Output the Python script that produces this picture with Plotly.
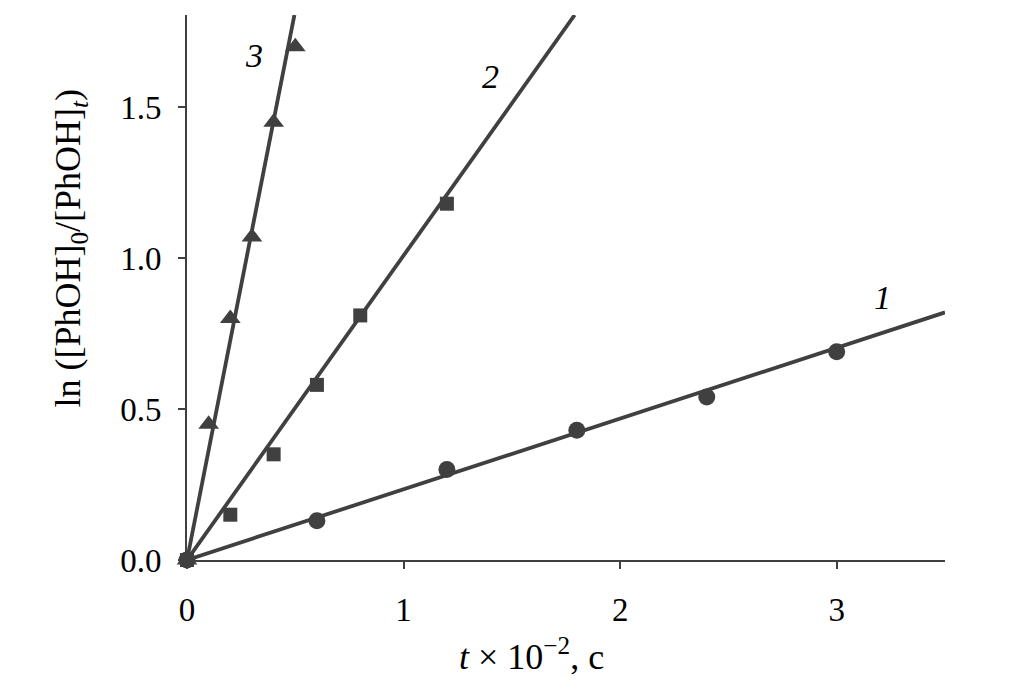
import plotly.graph_objects as go

# Series 1 (circles)
x1 = [0, 0.6, 1.2, 1.8, 2.4, 3.0]
y1 = [0, 0.13, 0.30, 0.43, 0.54, 0.69]
# Series 2 (squares)
x2 = [0, 0.2, 0.4, 0.6, 0.8, 1.2]
y2 = [0, 0.15, 0.35, 0.58, 0.81, 1.18]
# Series 3 (triangles)
x3 = [0, 0.1, 0.2, 0.3, 0.4, 0.5]
y3 = [0, 0.45, 0.80, 1.07, 1.45, 1.70]

# Fitted lines (endpoints)
fit1_x = [0, 3.5]
fit1_y = [0, 0.82]
fit2_x = [0, 1.79]
fit2_y = [0, 1.805]
fit3_x = [0, 0.496]
fit3_y = [0, 1.805]

labels = ["1", "2", "3"]
label_x = [3.21, 1.40, 0.31]
label_y = [0.87, 1.60, 1.67]

x_ticks = [0, 1, 2, 3]
y_ticks = [0.0, 0.5, 1.0, 1.5]

x_title = "<i>t</i> × 10<sup>−2</sup>, c"
y_title = "ln ([PhOH]<sub>0</sub>/[PhOH]<sub><i>t</i></sub>)"

C = "#404040"
FONT = "Liberation Serif, Times New Roman, serif"

fig = go.Figure()
for fx, fy in [(fit1_x, fit1_y), (fit2_x, fit2_y), (fit3_x, fit3_y)]:
    fig.add_trace(go.Scatter(x=fx, y=fy, mode="lines",
                             line=dict(color=C, width=3.8), showlegend=False,
                             cliponaxis=False))
fig.add_trace(go.Scatter(x=x1, y=y1, mode="markers",
                         marker=dict(symbol="circle", size=17, color=C),
                         showlegend=False, cliponaxis=False))
fig.add_trace(go.Scatter(x=x2, y=y2, mode="markers",
                         marker=dict(symbol="square", size=14, color=C),
                         showlegend=False, cliponaxis=False))
fig.add_trace(go.Scatter(x=x3, y=y3, mode="markers",
                         marker=dict(symbol="triangle-up", size=18, color=C),
                         showlegend=False, cliponaxis=False))

for t, lx, ly in zip(labels, label_x, label_y):
    fig.add_annotation(x=lx, y=ly, text=f"<i>{t}</i>", showarrow=False,
                       font=dict(family=FONT, size=34, color="black"))

# Axis titles as annotations (positioned like the reference)
fig.add_annotation(xref="paper", yref="paper", x=0.454, y=-0.174,
                   xanchor="center", yanchor="middle", text=x_title,
                   showarrow=False, font=dict(family=FONT, size=36, color="black"))
fig.add_annotation(xref="paper", yref="paper", x=-0.154, y=0.572,
                   xanchor="center", yanchor="middle", text=y_title,
                   textangle=-90, showarrow=False,
                   font=dict(family=FONT, size=36, color="black"))

fig.update_layout(
    width=1002, height=681,
    margin=dict(l=179, r=65, t=7, b=129),
    plot_bgcolor="white", paper_bgcolor="white",
    font=dict(family=FONT, size=33, color="black"),
    xaxis=dict(range=[0, 3.5], tickvals=x_ticks,
               ticktext=[str(v) for v in x_ticks],
               showgrid=False, zeroline=False,
               showline=True, linecolor=C, linewidth=2,
               ticks="outside", ticklen=7, tickcolor=C, tickwidth=2,
               ticklabelstandoff=12,
               tickfont=dict(family=FONT, size=33)),
    yaxis=dict(range=[0, 1.805], tickvals=y_ticks,
               ticktext=[f"{v:.1f}" for v in y_ticks],
               showgrid=False, zeroline=False,
               showline=True, linecolor=C, linewidth=2,
               ticks="outside", ticklen=7, tickcolor=C, tickwidth=2,
               ticklabelstandoff=10,
               tickfont=dict(family=FONT, size=33)),
)

fig.write_html("out.html")
